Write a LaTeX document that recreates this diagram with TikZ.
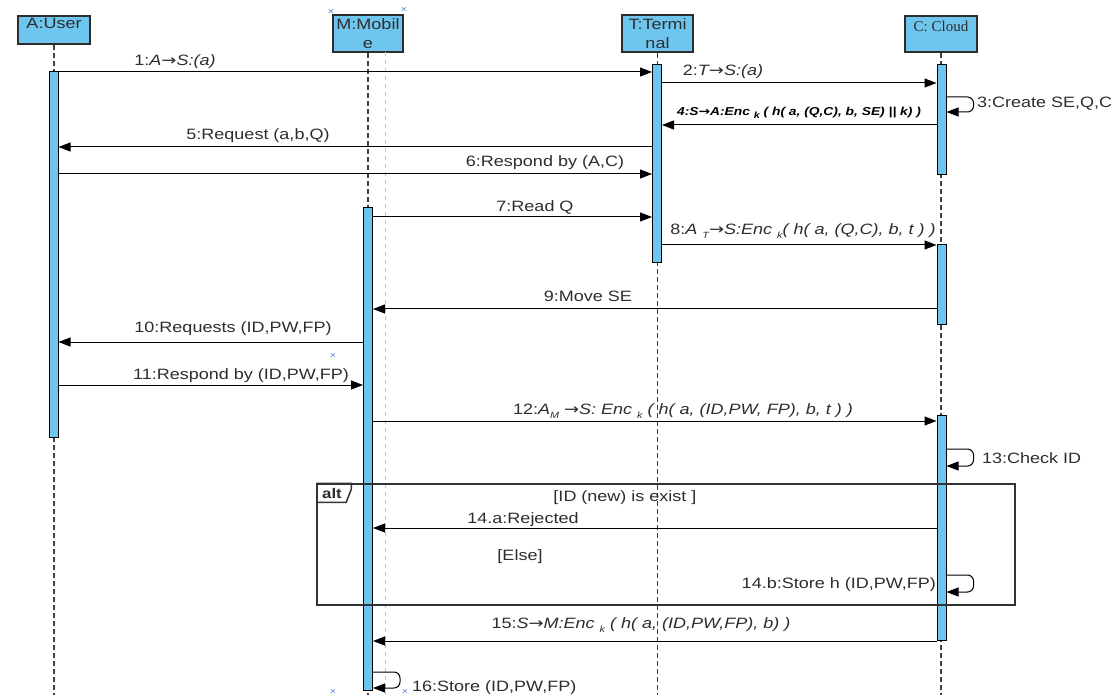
\documentclass[tikz,border=0pt]{standalone}
\usepackage{fontspec}
\setmainfont{Liberation Sans}[FakeStretch=1.2]
\newfontfamily\cloudfont{Liberation Serif}
\newfontfamily\arrowfont{DejaVu Sans}[FakeStretch=1.2]
\usepackage{xcolor}
\usetikzlibrary{arrows.meta, positioning, calc}
\definecolor{lifeblue}{RGB}{110,198,238}
\definecolor{inkgray}{RGB}{45,45,45}
\definecolor{markblue}{RGB}{70,130,210}
\newcommand{\lowsub}[1]{\raisebox{-0.4ex}{\fontsize{9}{9}\selectfont #1}}
\newcommand{\rarr}{{\arrowfont →}}
\tikzset{
  lifebox/.style = {rectangle, draw=inkgray, fill=lifeblue, line width=1.5pt, inner sep=2pt,
                    align=center, font=\fontsize{15}{19}\selectfont, text=inkgray},
  actbar/.style  = {rectangle, draw=black, fill=lifeblue, line width=1pt, minimum width=9, inner sep=0pt},
  life/.style    = {draw=black!75, line width=1.2pt, dash pattern=on 5pt off 3pt},
  ghost/.style   = {draw=black!22, line width=0.8pt, dash pattern=on 4pt off 4pt},
  msg/.style     = {draw=black, line width=1pt, -{Triangle[length=12pt,width=9pt]}},
  loopmsg/.style = {msg, rounded corners=6pt},
  lbl/.style     = {font=\fontsize{15}{18}\selectfont, text=inkgray, inner sep=1pt},
  lblB/.style    = {font=\fontsize{11.5}{13}\selectfont\bfseries\itshape, text=black, inner sep=1pt},
  frm/.style     = {draw=black!80, line width=1.5pt},
  hmark/.style   = {text=markblue, font=\fontsize{9}{9}\selectfont, inner sep=0pt},
}

\begin{document}
\begin{tikzpicture}[x=1pt, y=-1pt]
    \useasboundingbox (0,0) rectangle (1120,695);

    %% Message rows
    \foreach \r/\y in {m1/72, m2/83, m3a/97, m3b/112, m4/125, m5/147, m6/174, m7/217,
                       m8/245, m9/309, m10/342, m11/385, m12/421, m13a/449, m13b/466,
                       m14a/528, m14b/575, m14c/592, m15/641, m16a/672, m16b/688}
      \coordinate (\r) at (0,\y);
    \coordinate (bot) at (0,695);

    %% Lifeline heads
    \node[lifebox, minimum width=72, text height=11pt, text depth=13pt] (user) at (54,30) {A:User};
    \node[lifebox, minimum width=70, minimum height=37] (mob)  at (368,33.5) {M:Mobil\\e};
    \node[lifebox, minimum width=71, minimum height=37] (term) at (657.5,33.5) {T:Termi\\nal};
    \node[lifebox, minimum width=72, text height=14pt, text depth=18pt,
          font=\cloudfont\fontsize{15}{17}\selectfont] (cloud) at (941,34) {C: Cloud};

    %% Lifelines
    \draw[life] (user.south) -- (user.south |- bot);
    \draw[life] (mob.south)  -- (mob.south |- bot);
    \draw[life] (term.south) -- (term.south |- bot);
    \draw[life] (cloud.south) -- (cloud.south |- bot);
    \coordinate (mobghost) at (385,52);
    \draw[ghost] (mobghost) -- (mobghost |- bot);

    %% Activation bars
    \node[actbar, minimum height=365] (userbar)   at (53.5,254.5) {};
    \node[actbar, minimum height=482] (mobbar)    at (368,449) {};
    \node[actbar, minimum height=198] (termbar)   at (657,164) {};
    \node[actbar, minimum height=110] (cloudbarA) at (941.5,120) {};
    \node[actbar, minimum height=80]  (cloudbarB) at (941.5,285) {};
    \node[actbar, minimum height=225] (cloudbarC) at (941.5,527.5) {};

    %% Messages
    \draw[msg] (userbar.east |- m1) -- (termbar.west |- m1);
    \draw[msg] (termbar.east |- m2) -- (cloudbarA.west |- m2);
    \draw[loopmsg] (cloudbarA.east |- m3a) -- ++(27,0) |- (cloudbarA.east |- m3b);
    \draw[msg] (cloudbarA.west |- m4) -- (termbar.east |- m4);
    \draw[msg] (termbar.west |- m5) -- (userbar.east |- m5);
    \draw[msg] (userbar.east |- m6) -- (termbar.west |- m6);
    \draw[msg] (mobbar.east |- m7) -- (termbar.west |- m7);
    \draw[msg] (termbar.east |- m8) -- (cloudbarB.west |- m8);
    \draw[msg] (cloudbarB.west |- m9) -- (mobbar.east |- m9);
    \draw[msg] (mobbar.west |- m10) -- (userbar.east |- m10);
    \draw[msg] (userbar.east |- m11) -- (mobbar.west |- m11);
    \draw[msg] (mobbar.east |- m12) -- (cloudbarC.west |- m12);
    \draw[loopmsg] (cloudbarC.east |- m13a) -- ++(27,0) |- (cloudbarC.east |- m13b);
    \draw[msg] (cloudbarC.west |- m14a) -- (mobbar.east |- m14a);
    \draw[loopmsg] (cloudbarC.east |- m14b) -- ++(27,0) |- (cloudbarC.east |- m14c);
    \draw[msg] (cloudbarC.west |- m15) -- (mobbar.east |- m15);
    \draw[loopmsg] (mobbar.east |- m16a) -- ++(27,0) |- (mobbar.east |- m16b);

    %% Labels
    \node[lbl] (t1) at (175,62) {1:\textit{A\rarr S:(a)}};
    \node[lbl] (t2) at (723,72) {2:\textit{T\rarr S:(a)}};
    \node[lbl, anchor=west] (t3) at (976,104) {3:Create SE,Q,C};
    \node[lblB] (t4) at (799,113) {4:S\rarr A:Enc \lowsub{k} ( h( a, (Q,C), b, SE) || k) )};
    \node[lbl] (t5) at (258,136) {5:Request (a,b,Q)};
    \node[lbl] (t6) at (545,163) {6:Respond by (A,C)};
    \node[lbl] (t7) at (535,207) {7:Read Q};
    \node[lbl] (t8) at (803,231) {8:\textit{A \lowsub{T}\rarr S:Enc \lowsub{k}( h( a, (Q,C), b, t ) )}};
    \node[lbl] (t9) at (588,296) {9:Move SE};
    \node[lbl] (t10) at (233,329) {10:Requests (ID,PW,FP)};
    \node[lbl] (t11) at (241,376) {11:Respond by (ID,PW,FP)};
    \node[lbl] (t12) at (683,411) {12:\textit{A\lowsub{M} \rarr S: Enc \lowsub{k} ( h( a, (ID,PW, FP), b, t ) )}};
    \node[lbl, anchor=west] (t13) at (981,458) {13:Check ID};
    \node[lbl] (t14a) at (523,520) {14.a:Rejected};
    \node[lbl, anchor=east] (t14b) at (937,585) {14.b:Store h (ID,PW,FP)};
    \node[lbl] (t15) at (641,625) {15:\textit{S\rarr M:Enc \lowsub{k} ( h( a, (ID,PW,FP), b) )}};
    \node[lbl, anchor=west] (t16) at (411,688) {16:Store (ID,PW,FP)};

    %% alt fragment
    \node[frm, rectangle, minimum width=698, minimum height=121, inner sep=0pt] (altbox) at (666,544.5) {};
    \draw[frm] (altbox.north west) -- ++(35,0) -- ++(0,6) -- ++(-5,13) -- ++(-30,0);
    \node[font=\fontsize{14}{16}\selectfont\bfseries, text=inkgray, inner sep=0pt] (alttag) at (332,493) {alt};
    \node[lbl] (guard1) at (625,498) {[ID (new) is exist ]};
    \node[lbl] (guard2) at (520,557) {[Else]};

    %% selection marks
    \node[hmark] (hx1) at (331,12) {×};
    \node[hmark] (hx2) at (404,10) {×};
    \node[hmark] (hx3) at (333,356) {×};
    \node[hmark] (hx4) at (333,692) {×};
    \node[hmark] (hx5) at (405,692) {×};

\end{tikzpicture}
\end{document}
